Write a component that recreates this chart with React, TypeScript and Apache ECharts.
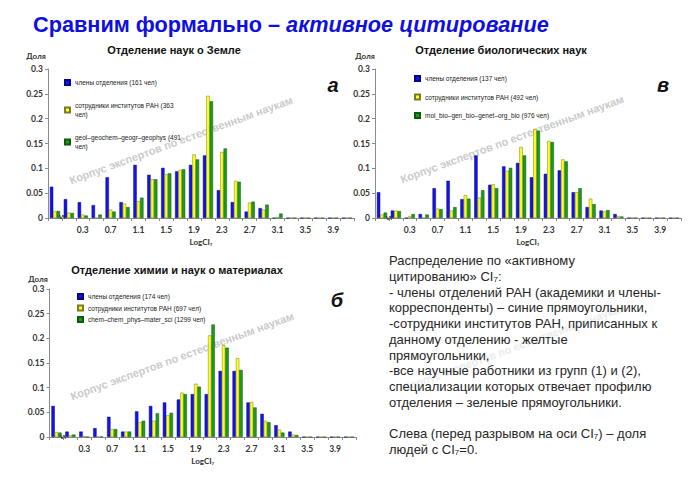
import React, { useEffect, useRef } from "react";
import * as echarts from "echarts";

const CATEGORIES = ["", "0.1", "0.3", "0.5", "0.7", "0.9", "1.1", "1.3", "1.5", "1.7", "1.9", "2.1", "2.3", "2.5", "2.7", "2.9", "3.1", "3.3", "3.5", "3.7", "3.9", "4.1"];

const EARTH_NAMES = ["члены отделения (161 чел)", "сотрудники институтов РАН (363 чел)", "geol–geochem–geogr–geophys (491 чел)"];
const EARTH_MEMBERS = [0.063, 0.038, 0.032, 0.026, 0.082, 0.032, 0.107, 0.087, 0.101, 0.094, 0.107, 0.126, 0.056, 0.032, 0.013, 0.020, 0, 0, 0, 0, 0, 0];
const EARTH_STAFF = [0.014, 0.011, 0.007, 0, 0.017, 0.029, 0.034, 0.078, 0.088, 0.097, 0.128, 0.246, 0.133, 0.075, 0.031, 0.017, 0.002, 0, 0, 0, 0, 0];
const EARTH_FIELD = [0.014, 0.010, 0.005, 0.007, 0.013, 0.022, 0.041, 0.078, 0.090, 0.098, 0.118, 0.235, 0.140, 0.073, 0.033, 0.027, 0.009, 0, 0, 0, 0, 0];

const BIO_NAMES = ["члены отделения (137 чел)", "сотрудники институтов РАН (492 чел)", "mol_bio–gen_bio–genet–org_bio (976 чел)"];
const BIO_MEMBERS = [0.052, 0.015, 0, 0.008, 0.060, 0.075, 0.038, 0.126, 0.067, 0.104, 0.111, 0.082, 0.089, 0.096, 0.052, 0.022, 0.015, 0.008, 0, 0, 0, 0];
const BIO_STAFF = [0.007, 0.015, 0.004, 0, 0.019, 0.015, 0.046, 0.041, 0.068, 0.095, 0.143, 0.179, 0.155, 0.118, 0.052, 0.039, 0.013, 0.004, 0.001, 0, 0, 0];
const BIO_FIELD = [0.011, 0.014, 0.008, 0.007, 0.018, 0.022, 0.039, 0.056, 0.060, 0.101, 0.126, 0.176, 0.153, 0.114, 0.060, 0.028, 0.016, 0.003, 0, 0, 0, 0];

const CHEM_NAMES = ["члены отделения (174 чел)", "сотрудники институтов РАН (697 чел)", "chem–chem_phys–mater_sci (1299 чел)"];
const CHEM_MEMBERS = [0.063, 0.011, 0.011, 0.018, 0.041, 0.011, 0.052, 0.063, 0.070, 0.076, 0.087, 0.087, 0.134, 0.134, 0.070, 0.047, 0.024, 0.011, 0, 0, 0, 0];
const CHEM_STAFF = [0.010, 0.004, 0.002, 0.001, 0.016, 0.011, 0.030, 0.033, 0.044, 0.090, 0.108, 0.206, 0.186, 0.160, 0.071, 0.033, 0.015, 0.005, 0, 0, 0, 0];
const CHEM_FIELD = [0.009, 0.005, 0, 0.001, 0.016, 0.011, 0.033, 0.048, 0.049, 0.087, 0.102, 0.228, 0.181, 0.136, 0.060, 0.030, 0.009, 0.004, 0, 0, 0, 0];

const MAIN_TITLE_PLAIN = "Сравним формально – ";
const MAIN_TITLE_ITALIC = "активное цитирование";
const CHART_TITLES = ["Отделение наук о Земле", "Отделение биологических наук", "Отделение химии и наук о материалах"];
const PANEL_LETTERS = ["а", "в", "б"];
const WATERMARK = "Корпус экспертов по естественным наукам";
const NOTE_LINES = [
  "Распределение по «активному",
  "цитированию» CI₇:",
  "- члены отделений РАН (академики и члены-",
  "корреспонденты) – синие прямоугольники,",
  "-сотрудники институтов РАН, приписанных к",
  "данному отделению - желтые",
  "прямоугольники,",
  "-все научные работники из групп (1) и (2),",
  "специализации которых отвечает профилю",
  "отделения – зеленые прямоугольники.",
  "",
  "Слева (перед разрывом на оси CI₇) – доля",
  "людей с CI₇=0.",
];

const COLORS = ["#1414e6", "#ffff1a", "#1f9a1f"];
const BORDERS = ["#06068a", "#7a7a28", "#0c5a0c"];
const CHART_FONT = "Lato, 'Liberation Sans', sans-serif";
const SLIDE_FONT = "'Liberation Sans', Arial, sans-serif";

export default function App() {
  const ref = useRef<HTMLDivElement>(null);
  useEffect(() => {
    if (!ref.current) return;
    const chart = echarts.init(ref.current, undefined, { renderer: "svg" });

    const grids = [
      { left: 48, top: 69, width: 306, height: 149 },
      { left: 375, top: 69, width: 306, height: 149 },
      { left: 49.5, top: 289, width: 306.5, height: 148 },
    ];
    const sets = [
      { names: EARTH_NAMES, data: [EARTH_MEMBERS, EARTH_STAFF, EARTH_FIELD] },
      { names: BIO_NAMES, data: [BIO_MEMBERS, BIO_STAFF, BIO_FIELD] },
      { names: CHEM_NAMES, data: [CHEM_MEMBERS, CHEM_STAFF, CHEM_FIELD] },
    ];

    const axisColor = "#8c8c8c";
    const xAxes = grids.map((_, i) => ({
      type: "category",
      gridIndex: i,
      data: CATEGORIES,
      axisLine: { lineStyle: { color: axisColor, width: 1 } },
      axisTick: { show: true, length: 3, interval: 0, lineStyle: { color: axisColor } },
      axisLabel: {
        interval: (idx: number) => idx > 0 && idx % 2 === 0,
        fontSize: 8.5,
        fontWeight: "bold",
        color: "#333",
        margin: 7,
        fontFamily: CHART_FONT,
      },
      name: "LogCI₇",
      nameLocation: "middle",
      nameGap: 20,
      nameTextStyle: { fontSize: 8, fontWeight: "bold", color: "#333", fontFamily: CHART_FONT },
    }));
    const yAxes = grids.map((_, i) => ({
      type: "value",
      gridIndex: i,
      min: 0,
      max: 0.3,
      interval: 0.05,
      axisLine: { show: true, lineStyle: { color: axisColor, width: 1 } },
      axisTick: { show: true, length: 3, lineStyle: { color: axisColor } },
      splitLine: { show: false },
      axisLabel: { fontSize: 8.5, fontWeight: "bold", color: "#333", margin: 5, fontFamily: CHART_FONT },
    }));

    const series: any[] = [];
    sets.forEach((s, i) => {
      s.data.forEach((vals, k) => {
        series.push({
          type: "bar",
          name: s.names[k],
          xAxisIndex: i,
          yAxisIndex: i,
          data: vals,
          barGap: "0%",
          barCategoryGap: "27%",
          itemStyle: { color: COLORS[k], borderColor: BORDERS[k], borderWidth: 0.5 },
        });
      });
    });

    const legendText = { fontSize: 6.5, color: "#222", fontFamily: SLIDE_FONT, lineHeight: 9 };
    const legends = [
      {
        left: 64, top: 78, padding: 0, orient: "vertical", itemWidth: 5, itemHeight: 5, itemGap: 14,
        data: EARTH_NAMES, textStyle: legendText, icon: "rect",
        formatter: (n: string) => (n === EARTH_NAMES[0] ? n : n.replace(" чел)", "\nчел)")),
      },
      { left: 414, top: 74, padding: 0, orient: "vertical", itemWidth: 5, itemHeight: 5, itemGap: 9.5, data: BIO_NAMES, textStyle: legendText, icon: "rect" },
      { left: 77, top: 292, padding: 0, orient: "vertical", itemWidth: 5, itemHeight: 5, itemGap: 2.5, data: CHEM_NAMES, textStyle: legendText, icon: "rect" },
    ];

    const titles = [
      {
        left: 33, top: 13, padding: 0,
        text: `{a|${MAIN_TITLE_PLAIN}}{b|${MAIN_TITLE_ITALIC}}`,
        textStyle: {
          rich: {
            a: { fontSize: 21.7, fontWeight: "bold", color: "#0f0fe0", fontFamily: SLIDE_FONT },
            b: { fontSize: 21.7, fontWeight: "bold", fontStyle: "italic", color: "#0f0fe0", fontFamily: SLIDE_FONT },
          },
        },
      },
      { left: 174, top: 44, textAlign: "center", padding: 0, text: CHART_TITLES[0], textStyle: { fontSize: 11, fontWeight: "bold", color: "#111", fontFamily: SLIDE_FONT } },
      { left: 501, top: 44, textAlign: "center", padding: 0, text: CHART_TITLES[1], textStyle: { fontSize: 11, fontWeight: "bold", color: "#111", fontFamily: SLIDE_FONT } },
      { left: 177, top: 264, textAlign: "center", padding: 0, text: CHART_TITLES[2], textStyle: { fontSize: 11, fontWeight: "bold", color: "#111", fontFamily: SLIDE_FONT } },
    ];

    const wm = (x: number, y: number, color: string) => ({
      type: "text",
      x, y, rotation: 0.35, z: 0,
      style: { text: WATERMARK, fill: color, font: `bold 11px ${SLIDE_FONT}`, align: "center", verticalAlign: "middle" },
    });
    const dolya = (x: number, y: number) => ({
      type: "text", x, y,
      style: { text: "Доля", fill: "#333", font: `bold 8px ${CHART_FONT}`, align: "center", verticalAlign: "middle" },
    });
    const letter = (x: number, y: number, t: string) => ({
      type: "text", x, y,
      style: { text: t, fill: "#111", font: `italic bold 20px ${SLIDE_FONT}`, align: "center", verticalAlign: "middle" },
    });
    const brk = (x: number, y: number) => ({
      type: "polyline",
      shape: { points: [[x - 2.5, y - 2], [x - 1, y + 2], [x + 1, y - 2], [x + 2.5, y + 2]] },
      style: { stroke: "#222", lineWidth: 0.8, fill: null },
      z: 10,
    });

    const graphic = [
      wm(181, 140, "#cbcbcb"),
      wm(512, 139, "#cbcbcb"),
      wm(182, 356, "#cbcbcb"),
      wm(515, 347, "#ececec"),
      dolya(36, 56),
      dolya(365, 56),
      dolya(38, 279),
      letter(333, 85, PANEL_LETTERS[0]),
      letter(663, 85, PANEL_LETTERS[1]),
      letter(337, 300, PANEL_LETTERS[2]),
      brk(62, 217),
      brk(389, 218),
      brk(63, 437),
      {
        type: "text", x: 389, y: 253, z: 5,
        style: { text: NOTE_LINES.join("\n"), fill: "#262626", font: `13px ${SLIDE_FONT}`, lineHeight: 15.7 },
      },
    ];

    chart.setOption({
      animation: false,
      backgroundColor: "#ffffff",
      title: titles,
      grid: grids,
      xAxis: xAxes,
      yAxis: yAxes,
      legend: legends,
      series,
      graphic,
    } as any);
    return () => chart.dispose();
  }, []);
  return <div ref={ref} style={{ position: "absolute", left: 0, top: 0, width: 700, height: 482 }} />;
}
